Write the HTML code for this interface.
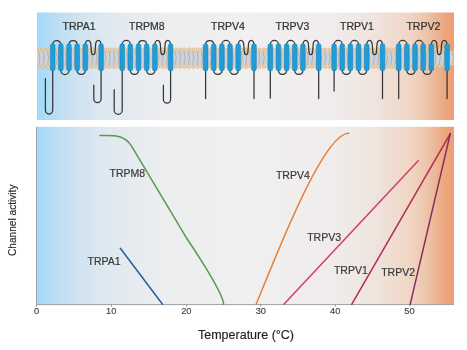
<!DOCTYPE html><html><head><meta charset="utf-8"><style>html,body{margin:0;padding:0;background:#fff;}svg{display:block;will-change:transform;}text{font-family:"Liberation Sans",sans-serif;}</style></head><body>
<svg width="467" height="350" viewBox="0 0 467 350">
<defs><linearGradient id="g1" gradientUnits="userSpaceOnUse" x1="36" y1="0" x2="454" y2="0"><stop offset="0.0000" stop-color="#a3d9fa"/><stop offset="0.0191" stop-color="#aadcf7"/><stop offset="0.0502" stop-color="#bcdef2"/><stop offset="0.1053" stop-color="#d0e3f0"/><stop offset="0.1531" stop-color="#dce8f0"/><stop offset="0.2297" stop-color="#e6ebef"/><stop offset="0.2967" stop-color="#ebedef"/><stop offset="0.5000" stop-color="#f0f0f0"/><stop offset="0.7153" stop-color="#f0eceb"/><stop offset="0.8110" stop-color="#efe4de"/><stop offset="0.8947" stop-color="#f0d6c4"/><stop offset="0.9354" stop-color="#ecc4aa"/><stop offset="0.9785" stop-color="#eca67e"/><stop offset="1.0000" stop-color="#ee9c72"/></linearGradient><linearGradient id="g2" gradientUnits="userSpaceOnUse" x1="36" y1="0" x2="454" y2="0"><stop offset="0.0000" stop-color="#a3d9fa"/><stop offset="0.0191" stop-color="#aadcf7"/><stop offset="0.0502" stop-color="#bcdef2"/><stop offset="0.1053" stop-color="#d0e3f0"/><stop offset="0.1531" stop-color="#dce8f0"/><stop offset="0.2297" stop-color="#e6ebef"/><stop offset="0.2967" stop-color="#ebedef"/><stop offset="0.5000" stop-color="#f0f0f0"/><stop offset="0.7153" stop-color="#f0eceb"/><stop offset="0.8110" stop-color="#efe4de"/><stop offset="0.8947" stop-color="#f0d6c4"/><stop offset="0.9354" stop-color="#ecc4aa"/><stop offset="0.9785" stop-color="#eca67e"/><stop offset="1.0000" stop-color="#ee9c72"/></linearGradient></defs>
<rect x="0" y="0" width="467" height="350" fill="#ffffff"/>
<rect x="37" y="12.5" width="417" height="107.5" fill="url(#g1)"/>
<rect x="36" y="126.8" width="418" height="177.7" fill="url(#g2)"/>
<rect x="37" y="51" width="417" height="14.2" fill="#d0d1d5"/>
<path d="M38.7 51.5L39.9 58.1L38.7 64.7M43.1 51.5L44.3 58.1L43.1 64.7M47.5 51.5L48.7 58.1L47.5 64.7M51.9 51.5L53.1 58.1L51.9 64.7M56.3 51.5L57.5 58.1L56.3 64.7M60.7 51.5L61.9 58.1L60.7 64.7M65.1 51.5L66.3 58.1L65.1 64.7M69.5 51.5L70.7 58.1L69.5 64.7M73.9 51.5L75.1 58.1L73.9 64.7M78.3 51.5L79.5 58.1L78.3 64.7M82.7 51.5L83.9 58.1L82.7 64.7M87.1 51.5L88.3 58.1L87.1 64.7M91.5 51.5L92.7 58.1L91.5 64.7M95.9 51.5L97.1 58.1L95.9 64.7M100.3 51.5L101.5 58.1L100.3 64.7M104.7 51.5L105.9 58.1L104.7 64.7M109.1 51.5L110.3 58.1L109.1 64.7M113.5 51.5L114.7 58.1L113.5 64.7M117.9 51.5L119.1 58.1L117.9 64.7M122.3 51.5L123.5 58.1L122.3 64.7M126.7 51.5L127.9 58.1L126.7 64.7M131.1 51.5L132.3 58.1L131.1 64.7M135.5 51.5L136.7 58.1L135.5 64.7M139.9 51.5L141.1 58.1L139.9 64.7M144.3 51.5L145.5 58.1L144.3 64.7M148.7 51.5L149.9 58.1L148.7 64.7M153.1 51.5L154.3 58.1L153.1 64.7M157.5 51.5L158.7 58.1L157.5 64.7M161.9 51.5L163.1 58.1L161.9 64.7M166.3 51.5L167.5 58.1L166.3 64.7M170.7 51.5L171.9 58.1L170.7 64.7M175.1 51.5L176.3 58.1L175.1 64.7M179.5 51.5L180.7 58.1L179.5 64.7M183.9 51.5L185.1 58.1L183.9 64.7M188.3 51.5L189.5 58.1L188.3 64.7M192.7 51.5L193.9 58.1L192.7 64.7M197.1 51.5L198.3 58.1L197.1 64.7M201.5 51.5L202.7 58.1L201.5 64.7M205.9 51.5L207.1 58.1L205.9 64.7M210.3 51.5L211.5 58.1L210.3 64.7M214.7 51.5L215.9 58.1L214.7 64.7M219.1 51.5L220.3 58.1L219.1 64.7M223.5 51.5L224.7 58.1L223.5 64.7M227.9 51.5L229.1 58.1L227.9 64.7M232.3 51.5L233.5 58.1L232.3 64.7M236.7 51.5L237.9 58.1L236.7 64.7M241.1 51.5L242.3 58.1L241.1 64.7M245.5 51.5L246.7 58.1L245.5 64.7M249.9 51.5L251.1 58.1L249.9 64.7M254.3 51.5L255.5 58.1L254.3 64.7M258.7 51.5L259.9 58.1L258.7 64.7M263.1 51.5L264.3 58.1L263.1 64.7M267.5 51.5L268.7 58.1L267.5 64.7M271.9 51.5L273.1 58.1L271.9 64.7M276.3 51.5L277.5 58.1L276.3 64.7M280.7 51.5L281.9 58.1L280.7 64.7M285.1 51.5L286.3 58.1L285.1 64.7M289.5 51.5L290.7 58.1L289.5 64.7M293.9 51.5L295.1 58.1L293.9 64.7M298.3 51.5L299.5 58.1L298.3 64.7M302.7 51.5L303.9 58.1L302.7 64.7M307.1 51.5L308.3 58.1L307.1 64.7M311.5 51.5L312.7 58.1L311.5 64.7M315.9 51.5L317.1 58.1L315.9 64.7M320.3 51.5L321.5 58.1L320.3 64.7M324.7 51.5L325.9 58.1L324.7 64.7M329.1 51.5L330.3 58.1L329.1 64.7M333.5 51.5L334.7 58.1L333.5 64.7M337.9 51.5L339.1 58.1L337.9 64.7M342.3 51.5L343.5 58.1L342.3 64.7M346.7 51.5L347.9 58.1L346.7 64.7M351.1 51.5L352.3 58.1L351.1 64.7M355.5 51.5L356.7 58.1L355.5 64.7M359.9 51.5L361.1 58.1L359.9 64.7M364.3 51.5L365.5 58.1L364.3 64.7M368.7 51.5L369.9 58.1L368.7 64.7M373.1 51.5L374.3 58.1L373.1 64.7M377.5 51.5L378.7 58.1L377.5 64.7M381.9 51.5L383.1 58.1L381.9 64.7M386.3 51.5L387.5 58.1L386.3 64.7M390.7 51.5L391.9 58.1L390.7 64.7M395.1 51.5L396.3 58.1L395.1 64.7M399.5 51.5L400.7 58.1L399.5 64.7M403.9 51.5L405.1 58.1L403.9 64.7M408.3 51.5L409.5 58.1L408.3 64.7M412.7 51.5L413.9 58.1L412.7 64.7M417.1 51.5L418.3 58.1L417.1 64.7M421.5 51.5L422.7 58.1L421.5 64.7M425.9 51.5L427.1 58.1L425.9 64.7M430.3 51.5L431.5 58.1L430.3 64.7M434.7 51.5L435.9 58.1L434.7 64.7M439.1 51.5L440.3 58.1L439.1 64.7M443.5 51.5L444.7 58.1L443.5 64.7M447.9 51.5L449.1 58.1L447.9 64.7M452.3 51.5L453.5 58.1L452.3 64.7" stroke="#abaeb4" stroke-width="0.9" fill="none"/>
<g fill="#f0d2a2" stroke="#c6a67c" stroke-width="0.5"><circle cx="39.3" cy="49.6" r="1.75"/><circle cx="39.3" cy="66.7" r="1.75"/><circle cx="43.7" cy="49.6" r="1.75"/><circle cx="43.7" cy="66.7" r="1.75"/><circle cx="48.1" cy="49.6" r="1.75"/><circle cx="48.1" cy="66.7" r="1.75"/><circle cx="52.5" cy="49.6" r="1.75"/><circle cx="52.5" cy="66.7" r="1.75"/><circle cx="56.9" cy="49.6" r="1.75"/><circle cx="56.9" cy="66.7" r="1.75"/><circle cx="61.3" cy="49.6" r="1.75"/><circle cx="61.3" cy="66.7" r="1.75"/><circle cx="65.7" cy="49.6" r="1.75"/><circle cx="65.7" cy="66.7" r="1.75"/><circle cx="70.1" cy="49.6" r="1.75"/><circle cx="70.1" cy="66.7" r="1.75"/><circle cx="74.5" cy="49.6" r="1.75"/><circle cx="74.5" cy="66.7" r="1.75"/><circle cx="78.9" cy="49.6" r="1.75"/><circle cx="78.9" cy="66.7" r="1.75"/><circle cx="83.3" cy="49.6" r="1.75"/><circle cx="83.3" cy="66.7" r="1.75"/><circle cx="87.7" cy="49.6" r="1.75"/><circle cx="87.7" cy="66.7" r="1.75"/><circle cx="92.1" cy="49.6" r="1.75"/><circle cx="92.1" cy="66.7" r="1.75"/><circle cx="96.5" cy="49.6" r="1.75"/><circle cx="96.5" cy="66.7" r="1.75"/><circle cx="100.9" cy="49.6" r="1.75"/><circle cx="100.9" cy="66.7" r="1.75"/><circle cx="105.3" cy="49.6" r="1.75"/><circle cx="105.3" cy="66.7" r="1.75"/><circle cx="109.7" cy="49.6" r="1.75"/><circle cx="109.7" cy="66.7" r="1.75"/><circle cx="114.1" cy="49.6" r="1.75"/><circle cx="114.1" cy="66.7" r="1.75"/><circle cx="118.5" cy="49.6" r="1.75"/><circle cx="118.5" cy="66.7" r="1.75"/><circle cx="122.9" cy="49.6" r="1.75"/><circle cx="122.9" cy="66.7" r="1.75"/><circle cx="127.3" cy="49.6" r="1.75"/><circle cx="127.3" cy="66.7" r="1.75"/><circle cx="131.7" cy="49.6" r="1.75"/><circle cx="131.7" cy="66.7" r="1.75"/><circle cx="136.1" cy="49.6" r="1.75"/><circle cx="136.1" cy="66.7" r="1.75"/><circle cx="140.5" cy="49.6" r="1.75"/><circle cx="140.5" cy="66.7" r="1.75"/><circle cx="144.9" cy="49.6" r="1.75"/><circle cx="144.9" cy="66.7" r="1.75"/><circle cx="149.3" cy="49.6" r="1.75"/><circle cx="149.3" cy="66.7" r="1.75"/><circle cx="153.7" cy="49.6" r="1.75"/><circle cx="153.7" cy="66.7" r="1.75"/><circle cx="158.1" cy="49.6" r="1.75"/><circle cx="158.1" cy="66.7" r="1.75"/><circle cx="162.5" cy="49.6" r="1.75"/><circle cx="162.5" cy="66.7" r="1.75"/><circle cx="166.9" cy="49.6" r="1.75"/><circle cx="166.9" cy="66.7" r="1.75"/><circle cx="171.3" cy="49.6" r="1.75"/><circle cx="171.3" cy="66.7" r="1.75"/><circle cx="175.7" cy="49.6" r="1.75"/><circle cx="175.7" cy="66.7" r="1.75"/><circle cx="180.1" cy="49.6" r="1.75"/><circle cx="180.1" cy="66.7" r="1.75"/><circle cx="184.5" cy="49.6" r="1.75"/><circle cx="184.5" cy="66.7" r="1.75"/><circle cx="188.9" cy="49.6" r="1.75"/><circle cx="188.9" cy="66.7" r="1.75"/><circle cx="193.3" cy="49.6" r="1.75"/><circle cx="193.3" cy="66.7" r="1.75"/><circle cx="197.7" cy="49.6" r="1.75"/><circle cx="197.7" cy="66.7" r="1.75"/><circle cx="202.1" cy="49.6" r="1.75"/><circle cx="202.1" cy="66.7" r="1.75"/><circle cx="206.5" cy="49.6" r="1.75"/><circle cx="206.5" cy="66.7" r="1.75"/><circle cx="210.9" cy="49.6" r="1.75"/><circle cx="210.9" cy="66.7" r="1.75"/><circle cx="215.3" cy="49.6" r="1.75"/><circle cx="215.3" cy="66.7" r="1.75"/><circle cx="219.7" cy="49.6" r="1.75"/><circle cx="219.7" cy="66.7" r="1.75"/><circle cx="224.1" cy="49.6" r="1.75"/><circle cx="224.1" cy="66.7" r="1.75"/><circle cx="228.5" cy="49.6" r="1.75"/><circle cx="228.5" cy="66.7" r="1.75"/><circle cx="232.9" cy="49.6" r="1.75"/><circle cx="232.9" cy="66.7" r="1.75"/><circle cx="237.3" cy="49.6" r="1.75"/><circle cx="237.3" cy="66.7" r="1.75"/><circle cx="241.7" cy="49.6" r="1.75"/><circle cx="241.7" cy="66.7" r="1.75"/><circle cx="246.1" cy="49.6" r="1.75"/><circle cx="246.1" cy="66.7" r="1.75"/><circle cx="250.5" cy="49.6" r="1.75"/><circle cx="250.5" cy="66.7" r="1.75"/><circle cx="254.9" cy="49.6" r="1.75"/><circle cx="254.9" cy="66.7" r="1.75"/><circle cx="259.3" cy="49.6" r="1.75"/><circle cx="259.3" cy="66.7" r="1.75"/><circle cx="263.7" cy="49.6" r="1.75"/><circle cx="263.7" cy="66.7" r="1.75"/><circle cx="268.1" cy="49.6" r="1.75"/><circle cx="268.1" cy="66.7" r="1.75"/><circle cx="272.5" cy="49.6" r="1.75"/><circle cx="272.5" cy="66.7" r="1.75"/><circle cx="276.9" cy="49.6" r="1.75"/><circle cx="276.9" cy="66.7" r="1.75"/><circle cx="281.3" cy="49.6" r="1.75"/><circle cx="281.3" cy="66.7" r="1.75"/><circle cx="285.7" cy="49.6" r="1.75"/><circle cx="285.7" cy="66.7" r="1.75"/><circle cx="290.1" cy="49.6" r="1.75"/><circle cx="290.1" cy="66.7" r="1.75"/><circle cx="294.5" cy="49.6" r="1.75"/><circle cx="294.5" cy="66.7" r="1.75"/><circle cx="298.9" cy="49.6" r="1.75"/><circle cx="298.9" cy="66.7" r="1.75"/><circle cx="303.3" cy="49.6" r="1.75"/><circle cx="303.3" cy="66.7" r="1.75"/><circle cx="307.7" cy="49.6" r="1.75"/><circle cx="307.7" cy="66.7" r="1.75"/><circle cx="312.1" cy="49.6" r="1.75"/><circle cx="312.1" cy="66.7" r="1.75"/><circle cx="316.5" cy="49.6" r="1.75"/><circle cx="316.5" cy="66.7" r="1.75"/><circle cx="320.9" cy="49.6" r="1.75"/><circle cx="320.9" cy="66.7" r="1.75"/><circle cx="325.3" cy="49.6" r="1.75"/><circle cx="325.3" cy="66.7" r="1.75"/><circle cx="329.7" cy="49.6" r="1.75"/><circle cx="329.7" cy="66.7" r="1.75"/><circle cx="334.1" cy="49.6" r="1.75"/><circle cx="334.1" cy="66.7" r="1.75"/><circle cx="338.5" cy="49.6" r="1.75"/><circle cx="338.5" cy="66.7" r="1.75"/><circle cx="342.9" cy="49.6" r="1.75"/><circle cx="342.9" cy="66.7" r="1.75"/><circle cx="347.3" cy="49.6" r="1.75"/><circle cx="347.3" cy="66.7" r="1.75"/><circle cx="351.7" cy="49.6" r="1.75"/><circle cx="351.7" cy="66.7" r="1.75"/><circle cx="356.1" cy="49.6" r="1.75"/><circle cx="356.1" cy="66.7" r="1.75"/><circle cx="360.5" cy="49.6" r="1.75"/><circle cx="360.5" cy="66.7" r="1.75"/><circle cx="364.9" cy="49.6" r="1.75"/><circle cx="364.9" cy="66.7" r="1.75"/><circle cx="369.3" cy="49.6" r="1.75"/><circle cx="369.3" cy="66.7" r="1.75"/><circle cx="373.7" cy="49.6" r="1.75"/><circle cx="373.7" cy="66.7" r="1.75"/><circle cx="378.1" cy="49.6" r="1.75"/><circle cx="378.1" cy="66.7" r="1.75"/><circle cx="382.5" cy="49.6" r="1.75"/><circle cx="382.5" cy="66.7" r="1.75"/><circle cx="386.9" cy="49.6" r="1.75"/><circle cx="386.9" cy="66.7" r="1.75"/><circle cx="391.3" cy="49.6" r="1.75"/><circle cx="391.3" cy="66.7" r="1.75"/><circle cx="395.7" cy="49.6" r="1.75"/><circle cx="395.7" cy="66.7" r="1.75"/><circle cx="400.1" cy="49.6" r="1.75"/><circle cx="400.1" cy="66.7" r="1.75"/><circle cx="404.5" cy="49.6" r="1.75"/><circle cx="404.5" cy="66.7" r="1.75"/><circle cx="408.9" cy="49.6" r="1.75"/><circle cx="408.9" cy="66.7" r="1.75"/><circle cx="413.3" cy="49.6" r="1.75"/><circle cx="413.3" cy="66.7" r="1.75"/><circle cx="417.7" cy="49.6" r="1.75"/><circle cx="417.7" cy="66.7" r="1.75"/><circle cx="422.1" cy="49.6" r="1.75"/><circle cx="422.1" cy="66.7" r="1.75"/><circle cx="426.5" cy="49.6" r="1.75"/><circle cx="426.5" cy="66.7" r="1.75"/><circle cx="430.9" cy="49.6" r="1.75"/><circle cx="430.9" cy="66.7" r="1.75"/><circle cx="435.3" cy="49.6" r="1.75"/><circle cx="435.3" cy="66.7" r="1.75"/><circle cx="439.7" cy="49.6" r="1.75"/><circle cx="439.7" cy="66.7" r="1.75"/><circle cx="444.1" cy="49.6" r="1.75"/><circle cx="444.1" cy="66.7" r="1.75"/><circle cx="448.5" cy="49.6" r="1.75"/><circle cx="448.5" cy="66.7" r="1.75"/></g>
<path d="M52.7 45.8 L52.7 44.58 A4.07 4.07 0 0 1 60.85 44.58 L60.85 45.8M60.85 68.8 L60.85 70.52 A4.07 4.07 0 0 0 69 70.52 L69 68.8M69 45.8 L69 44.58 A4.08 4.08 0 0 1 77.15 44.58 L77.15 45.8M77.15 68.8 L77.15 70.52 A4.08 4.08 0 0 0 85.3 70.52 L85.3 68.8M85.3 46 C85.3 38.6 90.9 38.6 90.9 45.5 L91.4 52 C91.6 55.6 94.8 55.6 95 52 L95.5 45.5 C95.5 38.6 101.1 38.6 101.1 46M52.7 68.8 L52.7 110.35 A3.65 3.65 0 0 1 45.4 110.35 L45.4 78.5M101.1 68.8 L101.1 99.05 A3.65 3.65 0 0 1 93.8 99.05 L93.8 85.2M122.2 45.8 L122.2 44.57 A4.07 4.07 0 0 1 130.35 44.57 L130.35 45.8M130.35 68.8 L130.35 70.52 A4.08 4.08 0 0 0 138.5 70.52 L138.5 68.8M138.5 45.8 L138.5 44.58 A4.08 4.08 0 0 1 146.65 44.58 L146.65 45.8M146.65 68.8 L146.65 70.52 A4.08 4.08 0 0 0 154.8 70.52 L154.8 68.8M154.8 46 C154.8 38.6 160.4 38.6 160.4 45.5 L160.9 52 C161.1 55.6 164.3 55.6 164.5 52 L165 45.5 C165 38.6 170.6 38.6 170.6 46M122.2 68.8 L122.2 110.3 A4 4 0 0 1 114.2 110.3 L114.2 89.7M170.6 68.8 L170.6 99.4 A3.6 3.6 0 0 1 163.4 99.4 L163.4 85M205.6 45.8 L205.6 44.58 A4.08 4.08 0 0 1 213.75 44.58 L213.75 45.8M213.75 68.8 L213.75 70.52 A4.08 4.08 0 0 0 221.9 70.52 L221.9 68.8M221.9 45.8 L221.9 44.57 A4.07 4.07 0 0 1 230.05 44.57 L230.05 45.8M230.05 68.8 L230.05 70.52 A4.08 4.08 0 0 0 238.2 70.52 L238.2 68.8M238.2 46 C238.2 38.6 243.8 38.6 243.8 45.5 L244.3 52 C244.5 55.6 247.7 55.6 247.9 52 L248.4 45.5 C248.4 38.6 254 38.6 254 46M205.6 68.8 L205.6 98.5M254 68.8 L254 98.5M270.3 45.8 L270.3 44.57 A4.07 4.07 0 0 1 278.45 44.57 L278.45 45.8M278.45 68.8 L278.45 70.52 A4.08 4.08 0 0 0 286.6 70.52 L286.6 68.8M286.6 45.8 L286.6 44.57 A4.07 4.07 0 0 1 294.75 44.57 L294.75 45.8M294.75 68.8 L294.75 70.52 A4.08 4.08 0 0 0 302.9 70.52 L302.9 68.8M302.9 46 C302.9 38.6 308.5 38.6 308.5 45.5 L309 52 C309.2 55.6 312.4 55.6 312.6 52 L313.1 45.5 C313.1 38.6 318.7 38.6 318.7 46M270.3 68.8 L270.3 98M318.7 68.8 L318.7 98.5M334.1 45.8 L334.1 44.57 A4.07 4.07 0 0 1 342.25 44.57 L342.25 45.8M342.25 68.8 L342.25 70.52 A4.08 4.08 0 0 0 350.4 70.52 L350.4 68.8M350.4 45.8 L350.4 44.57 A4.07 4.07 0 0 1 358.55 44.57 L358.55 45.8M358.55 68.8 L358.55 70.52 A4.08 4.08 0 0 0 366.7 70.52 L366.7 68.8M366.7 46 C366.7 38.6 372.3 38.6 372.3 45.5 L372.8 52 C373 55.6 376.2 55.6 376.4 52 L376.9 45.5 C376.9 38.6 382.5 38.6 382.5 46M334.1 68.8 L334.1 91M382.5 68.8 L382.5 98.5M398.7 45.8 L398.7 44.57 A4.07 4.07 0 0 1 406.85 44.57 L406.85 45.8M406.85 68.8 L406.85 70.52 A4.08 4.08 0 0 0 415 70.52 L415 68.8M415 45.8 L415 44.57 A4.07 4.07 0 0 1 423.15 44.57 L423.15 45.8M423.15 68.8 L423.15 70.52 A4.08 4.08 0 0 0 431.3 70.52 L431.3 68.8M431.3 46 C431.3 38.6 436.9 38.6 436.9 45.5 L437.4 52 C437.6 55.6 440.8 55.6 441 52 L441.5 45.5 C441.5 38.6 447.1 38.6 447.1 46M398.7 68.8 L398.7 98.5M447.1 68.8 L447.1 98.5" stroke="#34363a" stroke-width="1.25" fill="none" stroke-linecap="round"/>
<g fill="#209dd6" stroke="#1a7fb6" stroke-width="0.5"><rect x="50.35" y="43.8" width="4.7" height="27" rx="1.9"/><rect x="58.5" y="43.8" width="4.7" height="27" rx="1.9"/><rect x="66.65" y="43.8" width="4.7" height="27" rx="1.9"/><rect x="74.8" y="43.8" width="4.7" height="27" rx="1.9"/><rect x="82.95" y="43.8" width="4.7" height="27" rx="1.9"/><rect x="98.75" y="43.8" width="4.7" height="27" rx="1.9"/><rect x="119.85" y="43.8" width="4.7" height="27" rx="1.9"/><rect x="128" y="43.8" width="4.7" height="27" rx="1.9"/><rect x="136.15" y="43.8" width="4.7" height="27" rx="1.9"/><rect x="144.3" y="43.8" width="4.7" height="27" rx="1.9"/><rect x="152.45" y="43.8" width="4.7" height="27" rx="1.9"/><rect x="168.25" y="43.8" width="4.7" height="27" rx="1.9"/><rect x="203.25" y="43.8" width="4.7" height="27" rx="1.9"/><rect x="211.4" y="43.8" width="4.7" height="27" rx="1.9"/><rect x="219.55" y="43.8" width="4.7" height="27" rx="1.9"/><rect x="227.7" y="43.8" width="4.7" height="27" rx="1.9"/><rect x="235.85" y="43.8" width="4.7" height="27" rx="1.9"/><rect x="251.65" y="43.8" width="4.7" height="27" rx="1.9"/><rect x="267.95" y="43.8" width="4.7" height="27" rx="1.9"/><rect x="276.1" y="43.8" width="4.7" height="27" rx="1.9"/><rect x="284.25" y="43.8" width="4.7" height="27" rx="1.9"/><rect x="292.4" y="43.8" width="4.7" height="27" rx="1.9"/><rect x="300.55" y="43.8" width="4.7" height="27" rx="1.9"/><rect x="316.35" y="43.8" width="4.7" height="27" rx="1.9"/><rect x="331.75" y="43.8" width="4.7" height="27" rx="1.9"/><rect x="339.9" y="43.8" width="4.7" height="27" rx="1.9"/><rect x="348.05" y="43.8" width="4.7" height="27" rx="1.9"/><rect x="356.2" y="43.8" width="4.7" height="27" rx="1.9"/><rect x="364.35" y="43.8" width="4.7" height="27" rx="1.9"/><rect x="380.15" y="43.8" width="4.7" height="27" rx="1.9"/><rect x="396.35" y="43.8" width="4.7" height="27" rx="1.9"/><rect x="404.5" y="43.8" width="4.7" height="27" rx="1.9"/><rect x="412.65" y="43.8" width="4.7" height="27" rx="1.9"/><rect x="420.8" y="43.8" width="4.7" height="27" rx="1.9"/><rect x="428.95" y="43.8" width="4.7" height="27" rx="1.9"/><rect x="444.75" y="43.8" width="4.7" height="27" rx="1.9"/></g>
<g fill="#333" stroke="#333" stroke-width="0.22" font-size="10.5"><text x="62.6" y="29.8">TRPA1</text><text x="129" y="29.8">TRPM8</text><text x="211" y="29.8">TRPV4</text><text x="275.5" y="29.8">TRPV3</text><text x="340" y="29.8">TRPV1</text><text x="406.4" y="29.8">TRPV2</text></g>
<path d="M36.5 126.8 L36.5 304.6 L454 304.6" stroke="#9aa0a6" stroke-width="1" fill="none"/>
<path d="M36.5 304.6 L36.5 306.6M111.4 304.6 L111.4 306.6M186.4 304.6 L186.4 306.6M260.7 304.6 L260.7 306.6M335.4 304.6 L335.4 306.6M409.9 304.6 L409.9 306.6" stroke="#8a9096" stroke-width="1" fill="none"/>
<g fill="#444" stroke="#444" stroke-width="0.15" font-size="9.3"><text x="36.5" y="314.4" text-anchor="middle">0</text><text x="111.25" y="314.4" text-anchor="middle">10</text><text x="186.3" y="314.4" text-anchor="middle">20</text><text x="260.85" y="314.4" text-anchor="middle">30</text><text x="335.2" y="314.4" text-anchor="middle">40</text><text x="409.45" y="314.4" text-anchor="middle">50</text></g>
<path d="M99.9 135.6 C112.0 135.6 124.0 133.6 131.7 146.3 L186.6 238.2 C186.8 238.5 223.3 291.9 223.6 304.3" stroke="#5a9a48" stroke-width="1.5" fill="none" stroke-linecap="round" stroke-linejoin="round"/>
<path d="M120.3 248.3 L162.5 304.2" stroke="#2860a0" stroke-width="1.5" fill="none" stroke-linecap="round" stroke-linejoin="round"/>
<path d="M256.1 304.3 C279.4 247.4 323.9 132.9 348.7 133.2" stroke="#e2823e" stroke-width="1.5" fill="none" stroke-linecap="round" stroke-linejoin="round"/>
<path d="M283.9 304.3 L418.2 160.8" stroke="#d43c6c" stroke-width="1.5" fill="none" stroke-linecap="round" stroke-linejoin="round"/>
<path d="M351.7 304.3 L450.3 133.6" stroke="#b52a55" stroke-width="1.5" fill="none" stroke-linecap="round" stroke-linejoin="round"/>
<path d="M410.2 304.3 L450.3 133.6" stroke="#842e5e" stroke-width="1.5" fill="none" stroke-linecap="round" stroke-linejoin="round"/>
<g fill="#3a3a3a" stroke="#3a3a3a" stroke-width="0.2" font-size="10.5"><text x="109.5" y="177">TRPM8</text><text x="87.5" y="265">TRPA1</text><text x="275.9" y="179">TRPV4</text><text x="307.2" y="241.3">TRPV3</text><text x="333.9" y="273.5">TRPV1</text><text x="381.2" y="275.8">TRPV2</text></g>
<text x="198" y="339.2" font-size="12.5" fill="#222" stroke="#222" stroke-width="0.15">Temperature (°C)</text>
<text transform="translate(15.8 256) rotate(-90)" font-size="11.5" fill="#2a2a2a" stroke="#2a2a2a" stroke-width="0.15" textLength="71.5" lengthAdjust="spacingAndGlyphs">Channel activity</text>
</svg></body></html>
